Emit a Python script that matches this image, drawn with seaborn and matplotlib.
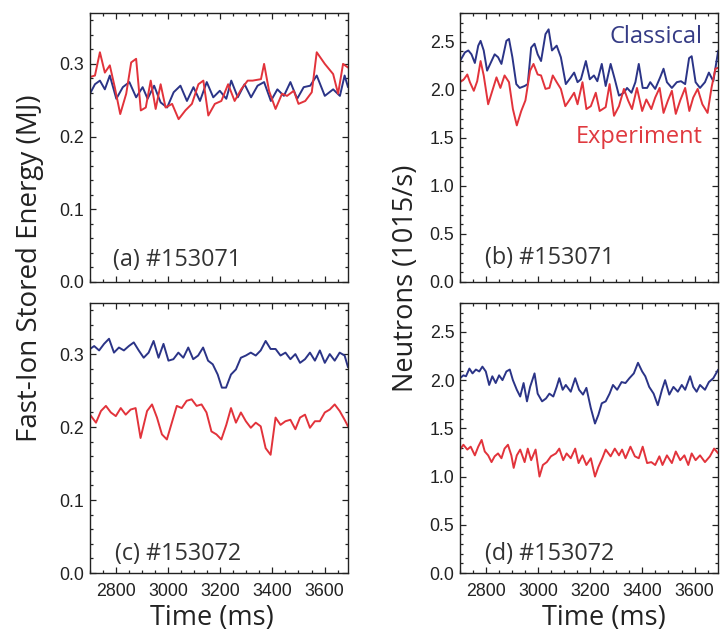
import matplotlib
matplotlib.use("Agg")
import matplotlib.pyplot as plt
import seaborn as sns
import pandas as pd
from matplotlib.ticker import MultipleLocator

# ---- data ----
# (a) #153071, fast-ion stored energy (MJ)
a_cls_t = [2700, 2719, 2738, 2757, 2776, 2801, 2826, 2851, 2877, 2902, 2921, 2946, 2971, 2996,
           3021, 3047, 3072, 3097, 3122, 3148, 3173, 3198, 3223, 3242, 3267, 3293, 3318, 3343,
           3368, 3394, 3419, 3444, 3469, 3495, 3520, 3545, 3570, 3601, 3633, 3659, 3677, 3690]
a_cls_v = [0.259, 0.272, 0.277, 0.265, 0.284, 0.252, 0.268, 0.275, 0.254, 0.268, 0.252, 0.270,
           0.247, 0.240, 0.261, 0.270, 0.249, 0.268, 0.249, 0.275, 0.254, 0.263, 0.252, 0.277,
           0.254, 0.272, 0.254, 0.270, 0.275, 0.249, 0.265, 0.256, 0.275, 0.252, 0.268, 0.270,
           0.284, 0.256, 0.265, 0.256, 0.284, 0.268]
a_exp_t = [2700, 2719, 2738, 2757, 2776, 2795, 2816, 2839, 2858, 2877, 2895, 2914, 2933, 2952,
           2971, 2990, 3015, 3040, 3066, 3091, 3116, 3135, 3154, 3179, 3204, 3230, 3255, 3280,
           3305, 3324, 3356, 3368, 3387, 3412, 3437, 3456, 3482, 3500, 3526, 3551, 3570, 3601,
           3633, 3652, 3671, 3690]
a_exp_v = [0.282, 0.284, 0.316, 0.288, 0.298, 0.268, 0.231, 0.259, 0.302, 0.307, 0.236, 0.240,
           0.277, 0.238, 0.272, 0.240, 0.245, 0.224, 0.236, 0.245, 0.272, 0.277, 0.229, 0.245,
           0.249, 0.272, 0.249, 0.265, 0.277, 0.277, 0.279, 0.300, 0.263, 0.238, 0.259, 0.256,
           0.263, 0.245, 0.249, 0.261, 0.316, 0.300, 0.286, 0.259, 0.300, 0.295]

# (b) #153071, neutrons (10^15/s)
b_cls_t = [2700, 2719, 2732, 2744, 2757, 2770, 2779, 2791, 2804, 2821, 2833, 2846, 2859, 2878,
           2888, 2901, 2916, 2929, 2948, 2960, 2973, 2986, 2998, 3011, 3028, 3040, 3053, 3071,
           3087, 3106, 3125, 3138, 3151, 3164, 3183, 3198, 3214, 3227, 3244, 3259, 3278, 3294,
           3310, 3329, 3341, 3358, 3373, 3386, 3401, 3418, 3430, 3449, 3468, 3481, 3494, 3513,
           3532, 3548, 3564, 3579, 3589, 3604, 3621, 3640, 3655, 3672, 3691]
b_cls_v = [2.30, 2.39, 2.41, 2.37, 2.28, 2.46, 2.51, 2.41, 2.20, 2.30, 2.37, 2.34, 2.27, 2.51,
           2.53, 2.34, 2.06, 2.02, 2.04, 2.06, 2.44, 2.48, 2.37, 2.30, 2.58, 2.63, 2.41, 2.46,
           2.34, 2.06, 2.13, 2.18, 2.08, 2.11, 2.30, 2.11, 2.15, 2.09, 2.27, 2.04, 2.27, 2.11,
           1.94, 1.97, 2.02, 1.97, 2.08, 2.27, 2.02, 2.02, 2.08, 2.01, 2.13, 2.22, 2.08, 2.02,
           2.08, 2.09, 2.06, 2.33, 2.35, 2.08, 2.02, 2.08, 2.18, 2.09, 2.41]
b_exp_t = [2700, 2715, 2728, 2738, 2753, 2766, 2779, 2791, 2808, 2824, 2840, 2855, 2871, 2888,
           2903, 2918, 2935, 2951, 2969, 2982, 2998, 3011, 3028, 3043, 3056, 3071, 3087, 3104,
           3119, 3138, 3151, 3170, 3185, 3202, 3221, 3236, 3259, 3274, 3291, 3310, 3329, 3345,
           3360, 3379, 3399, 3415, 3434, 3449, 3466, 3481, 3498, 3513, 3528, 3545, 3564, 3580,
           3595, 3612, 3630, 3650, 3665, 3680, 3691]
b_exp_v = [2.08, 2.11, 2.16, 2.08, 1.99, 2.09, 2.30, 2.15, 1.85, 1.99, 2.13, 2.02, 2.15, 2.08,
           1.80, 1.63, 1.78, 1.89, 2.20, 2.27, 2.16, 2.15, 2.01, 2.02, 2.15, 2.08, 2.01, 1.83,
           1.89, 1.97, 1.85, 2.08, 1.80, 1.83, 1.97, 1.78, 1.82, 2.06, 1.73, 1.83, 2.01, 1.89,
           1.80, 2.02, 1.78, 1.90, 1.80, 1.92, 2.02, 1.76, 1.89, 1.99, 1.75, 1.89, 2.02, 1.78,
           1.92, 2.01, 1.85, 1.76, 2.02, 2.22, 2.23]

# (c) #153072, fast-ion stored energy (MJ)
c_cls_t = [2700, 2716, 2735, 2754, 2773, 2792, 2811, 2830, 2849, 2868, 2887, 2906, 2925, 2944,
           2963, 2982, 3001, 3020, 3039, 3058, 3077, 3096, 3115, 3134, 3153, 3171, 3190, 3206,
           3222, 3241, 3260, 3279, 3298, 3317, 3336, 3355, 3374, 3393, 3412, 3431, 3450, 3469,
           3488, 3506, 3525, 3544, 3563, 3582, 3601, 3620, 3639, 3658, 3677, 3690]
c_cls_v = [0.307, 0.311, 0.305, 0.314, 0.321, 0.302, 0.309, 0.305, 0.311, 0.316, 0.305, 0.295,
           0.302, 0.318, 0.295, 0.314, 0.291, 0.293, 0.302, 0.295, 0.309, 0.293, 0.298, 0.309,
           0.291, 0.286, 0.272, 0.254, 0.254, 0.272, 0.279, 0.295, 0.298, 0.302, 0.298, 0.305,
           0.318, 0.307, 0.307, 0.298, 0.302, 0.293, 0.300, 0.288, 0.293, 0.302, 0.291, 0.305,
           0.288, 0.300, 0.291, 0.302, 0.298, 0.282]
c_exp_t = [2700, 2723, 2742, 2761, 2780, 2799, 2818, 2837, 2856, 2875, 2894, 2919, 2938, 2957,
           2976, 2995, 3014, 3033, 3052, 3071, 3090, 3109, 3128, 3147, 3166, 3185, 3204, 3223,
           3241, 3260, 3279, 3298, 3317, 3336, 3355, 3374, 3393, 3412, 3431, 3450, 3469, 3488,
           3506, 3525, 3544, 3563, 3582, 3601, 3620, 3639, 3658, 3677, 3690]
c_exp_v = [0.217, 0.206, 0.222, 0.229, 0.220, 0.215, 0.226, 0.217, 0.224, 0.226, 0.185, 0.222,
           0.231, 0.213, 0.190, 0.183, 0.206, 0.229, 0.226, 0.236, 0.238, 0.229, 0.231, 0.220,
           0.194, 0.190, 0.183, 0.203, 0.226, 0.206, 0.220, 0.208, 0.199, 0.206, 0.201, 0.171,
           0.162, 0.213, 0.203, 0.208, 0.210, 0.197, 0.213, 0.217, 0.199, 0.208, 0.208, 0.220,
           0.224, 0.231, 0.222, 0.210, 0.201]

# (d) #153072, neutrons (10^15/s)
d_cls_t = [2700, 2713, 2723, 2736, 2748, 2761, 2774, 2786, 2799, 2812, 2824, 2837, 2850, 2863,
           2878, 2891, 2903, 2918, 2931, 2944, 2957, 2969, 2986, 2998, 3015, 3030, 3043, 3058,
           3071, 3081, 3094, 3106, 3125, 3142, 3157, 3172, 3185, 3202, 3218, 3231, 3244, 3259,
           3274, 3287, 3303, 3320, 3335, 3350, 3367, 3383, 3399, 3411, 3426, 3443, 3459, 3475,
           3487, 3503, 3519, 3536, 3551, 3564, 3583, 3595, 3608, 3621, 3640, 3655, 3672, 3691]
d_cls_v = [2.02, 2.05, 2.04, 2.12, 2.07, 2.11, 2.09, 2.14, 2.09, 1.95, 2.04, 1.97, 2.05, 2.00,
           2.09, 2.11, 2.00, 1.90, 1.83, 1.97, 1.78, 1.93, 2.07, 1.86, 1.78, 1.81, 1.86, 1.83,
           1.93, 2.02, 1.90, 1.95, 1.88, 2.02, 1.90, 1.85, 1.92, 1.71, 1.55, 1.64, 1.76, 1.78,
           1.86, 1.95, 1.90, 1.98, 1.97, 2.02, 2.07, 2.18, 2.09, 2.04, 1.93, 1.86, 1.74, 1.90,
           2.00, 1.85, 1.93, 1.88, 1.95, 1.90, 2.04, 1.93, 1.88, 1.95, 1.90, 1.98, 2.02, 2.11]
d_exp_t = [2700, 2713, 2728, 2741, 2757, 2770, 2783, 2795, 2808, 2821, 2833, 2846, 2859, 2871,
           2884, 2897, 2906, 2918, 2931, 2948, 2960, 2973, 2990, 3005, 3018, 3033, 3049, 3068,
           3081, 3096, 3109, 3125, 3142, 3155, 3170, 3185, 3202, 3218, 3231, 3246, 3259, 3278,
           3294, 3310, 3322, 3335, 3354, 3371, 3386, 3401, 3418, 3434, 3449, 3465, 3477, 3494,
           3513, 3528, 3545, 3561, 3576, 3589, 3604, 3621, 3640, 3659, 3675, 3691]
d_exp_v = [1.28, 1.33, 1.28, 1.31, 1.22, 1.31, 1.38, 1.26, 1.22, 1.15, 1.21, 1.24, 1.19, 1.29,
           1.33, 1.22, 1.09, 1.22, 1.28, 1.15, 1.29, 1.17, 1.28, 1.00, 1.12, 1.15, 1.21, 1.24,
           1.29, 1.17, 1.24, 1.19, 1.29, 1.14, 1.22, 1.12, 1.19, 1.00, 1.10, 1.19, 1.28, 1.21,
           1.29, 1.22, 1.28, 1.19, 1.31, 1.21, 1.19, 1.31, 1.14, 1.15, 1.12, 1.21, 1.12, 1.22,
           1.14, 1.26, 1.17, 1.22, 1.12, 1.24, 1.17, 1.22, 1.15, 1.21, 1.29, 1.24]

panel_labels = ["(a) #153071", "(b) #153071", "(c) #153072", "(d) #153072"]
series_names = ["Classical", "Experiment"]
palette = {"Classical": "#2b3487", "Experiment": "#e2333b"}

# ---- style ----
sns.set_style("ticks")
plt.rcParams["font.family"] = ["Liberation Sans", "DejaVu Sans"]
plt.rcParams["lines.solid_joinstyle"] = "round"
label_font = ["Open Sans", "DejaVu Sans"]
txt_color = "#222222"

fig = plt.figure(figsize=(7.21, 6.32), dpi=100)
W, H = 721, 632

def add_ax(x0, y0, x1, y1):
    # pixel box -> figure fraction
    return fig.add_axes([x0 / W, 1 - y1 / H, (x1 - x0) / W, (y1 - y0) / H])

ax_a = add_ax(90, 13, 348, 282)
ax_b = add_ax(460, 13, 718, 282)
ax_c = add_ax(90, 303, 348, 573)
ax_d = add_ax(460, 303, 718, 573)

panels = [
    (ax_a, a_cls_t, a_cls_v, a_exp_t, a_exp_v, 0.37, 0.1, 0.02),
    (ax_b, b_cls_t, b_cls_v, b_exp_t, b_exp_v, 2.8, 0.5, 0.1),
    (ax_c, c_cls_t, c_cls_v, c_exp_t, c_exp_v, 0.37, 0.1, 0.02),
    (ax_d, d_cls_t, d_cls_v, d_exp_t, d_exp_v, 2.8, 0.5, 0.1),
]
label_pos = [(0.089, 0.082), (0.097, 0.089), (0.097, 0.070), (0.097, 0.070)]

for i, (ax, ct, cv, et, ev, ytop, ymaj, ymin) in enumerate(panels):
    df = pd.concat([
        pd.DataFrame({"time": ct, "value": cv, "series": "Classical"}),
        pd.DataFrame({"time": et, "value": ev, "series": "Experiment"}),
    ])
    sns.lineplot(data=df, x="time", y="value", hue="series", palette=palette,
                 hue_order=series_names, legend=False, ax=ax, linewidth=1.4)
    ax.set_xlim(2700, 3690)
    ax.set_ylim(0, ytop)
    ax.xaxis.set_major_locator(MultipleLocator(200))
    ax.xaxis.set_minor_locator(MultipleLocator(50))
    ax.yaxis.set_major_locator(MultipleLocator(ymaj))
    ax.yaxis.set_minor_locator(MultipleLocator(ymin))
    ax.yaxis.set_major_formatter(matplotlib.ticker.FormatStrFormatter("%.1f"))
    ax.tick_params(which="both", top=True, right=True, direction="in",
                   labelsize=12.8, colors=txt_color, width=0.9)
    ax.tick_params(which="major", length=4.5)
    ax.tick_params(which="minor", length=2.2)
    ax.tick_params(axis="x", pad=7)
    ax.tick_params(axis="y", pad=4)
    ax.set_xlabel("")
    ax.set_ylabel("")
    for sp in ax.spines.values():
        sp.set_linewidth(1.0)
        sp.set_color(txt_color)
    if i < 2:
        ax.set_xticklabels([])
    lx, ly = label_pos[i]
    ax.text(lx, ly, panel_labels[i], transform=ax.transAxes, fontsize=16.8,
            family=label_font, color="#333333", ha="left", va="center")

ax_b.text(0.938, 0.911, "Classical", transform=ax_b.transAxes, fontsize=17,
          family=label_font, color="#353b85", ha="right", va="center")
ax_b.text(0.942, 0.539, "Experiment", transform=ax_b.transAxes, fontsize=17,
          family=label_font, color="#e0393f", ha="right", va="center")

fig.text(30 / W, 1 - 268 / H, "Fast-Ion Stored Energy (MJ)", rotation=90, fontsize=20,
         family=label_font, color=txt_color, ha="center", va="center")
fig.text(406 / W, 1 - 278 / H, "Neutrons (1015/s)", rotation=90, fontsize=19.5,
         family=label_font, color=txt_color, ha="center", va="center")
fig.text(212 / W, 1 - 618 / H, "Time (ms)", fontsize=19.5,
         family=label_font, color=txt_color, ha="center", va="center")
fig.text(604 / W, 1 - 618 / H, "Time (ms)", fontsize=19.5,
         family=label_font, color=txt_color, ha="center", va="center")

fig.savefig("out.png", dpi=100)
